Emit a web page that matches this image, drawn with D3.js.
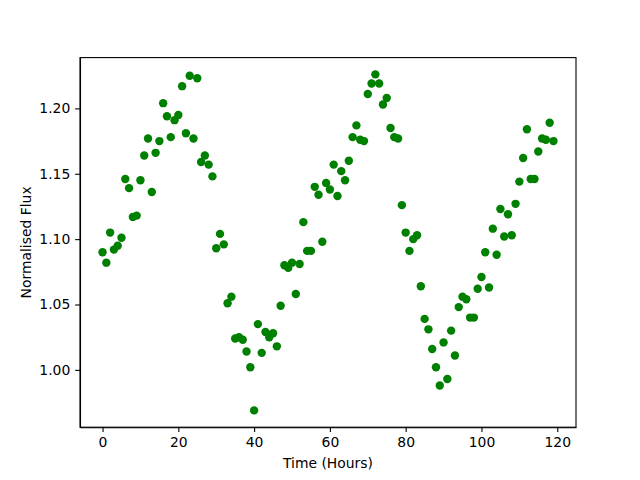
<!DOCTYPE html>
<html>
<head>
<meta charset="utf-8">
<script src="https://cdn.jsdelivr.net/npm/d3@7"></script>
<style>
  body { margin: 0; background: #fff; }
  svg { display: block; }
  .axis text { font-family: "DejaVu Sans", sans-serif; font-size: 13.9px; fill: #000; }
  .axis path, .axis line { stroke: #000; stroke-width: 1.1; }
</style>
</head>
<body>
<div id="chart"></div>
<script>
// hours 0..119, one reading per hour
const hours = d3.range(0, 120);
const flux = [
  1.090, 1.082, 1.105, 1.092, 1.095, 1.101, 1.146, 1.139, 1.117, 1.118,
  1.145, 1.164, 1.177, 1.136, 1.166, 1.175, 1.204, 1.194, 1.178, 1.191,
  1.195, 1.217, 1.181, 1.225, 1.177, 1.223, 1.159, 1.164, 1.157, 1.148,
  1.093, 1.104, 1.096, 1.051, 1.056, 1.024, 1.025, 1.023, 1.014, 1.002,
  0.969, 1.035, 1.013, 1.029, 1.025, 1.028, 1.018, 1.049, 1.080, 1.078,
  1.082, 1.058, 1.081, 1.113, 1.091, 1.091, 1.140, 1.134, 1.098, 1.143,
  1.138, 1.157, 1.133, 1.152, 1.145, 1.160, 1.178, 1.187, 1.176, 1.175,
  1.211, 1.219, 1.226, 1.219, 1.203, 1.208, 1.185, 1.178, 1.177, 1.126,
  1.105, 1.091, 1.100, 1.103, 1.064, 1.039, 1.031, 1.016, 1.002, 0.988,
  1.021, 0.993, 1.030, 1.011, 1.048, 1.056, 1.054, 1.040, 1.040, 1.062,
  1.071, 1.090, 1.063, 1.108, 1.088, 1.123, 1.102, 1.119, 1.103, 1.127,
  1.144, 1.162, 1.184, 1.146, 1.146, 1.167, 1.177, 1.176, 1.189, 1.175
];
const xTicks = [0, 20, 40, 60, 80, 100, 120];
const yTicks = [1.00, 1.05, 1.10, 1.15, 1.20];

const svgWidth = 640, svgHeight = 480;
const margin = { top: 57.6, bottom: 52.8, left: 80, right: 64 };
const width = svgWidth - margin.left - margin.right;
const height = svgHeight - margin.top - margin.bottom;

// matplotlib style 5% padding
function padded(ext) {
  const d = (ext[1] - ext[0]) * 0.05;
  return [ext[0] - d, ext[1] + d];
}

const points = hours.map((h, i) => [h, flux[i]]);

const svg = d3.select('#chart').append('svg')
  .attr('width', svgWidth)
  .attr('height', svgHeight);

const g = svg.append('g')
  .attr('transform', 'translate(' + margin.left + ',' + margin.top + ')');

const xScale = d3.scaleLinear()
  .domain(padded(d3.extent(hours)))
  .range([0, width]);
const yScale = d3.scaleLinear()
  .domain(padded(d3.extent(flux)))
  .range([height, 0]);

const tickLen = 4.86;

g.append('g')
  .attr('class', 'axis')
  .attr('transform', 'translate(0,' + height + ')')
  .call(d3.axisBottom(xScale).tickValues(xTicks).tickSize(tickLen).tickPadding(4.9).tickSizeOuter(0));

g.append('g')
  .attr('class', 'axis')
  .call(d3.axisLeft(yScale).tickValues(yTicks).tickFormat(d3.format('.2f')).tickSize(tickLen).tickPadding(4.9).tickSizeOuter(0));

// remaining spines
g.append('rect')
  .attr('width', width)
  .attr('height', height)
  .attr('fill', 'none')
  .attr('stroke', '#000')
  .attr('stroke-width', 1.1);

g.selectAll('circle')
  .data(points)
  .enter()
  .append('circle')
  .attr('cx', d => xScale(d[0]))
  .attr('cy', d => yScale(d[1]))
  .attr('r', 4.2)
  .attr('fill', '#008000');

svg.append('text')
  .attr('x', margin.left + width / 2)
  .attr('y', 468)
  .attr('text-anchor', 'middle')
  .style('font-family', '"DejaVu Sans", sans-serif')
  .style('font-size', '13.9px')
  .text('Time (Hours)');

svg.append('text')
  .attr('transform', 'translate(31,' + (margin.top + height / 2) + ') rotate(-90)')
  .attr('text-anchor', 'middle')
  .style('font-family', '"DejaVu Sans", sans-serif')
  .style('font-size', '13.9px')
  .text('Normalised Flux');
</script>
</body>
</html>
